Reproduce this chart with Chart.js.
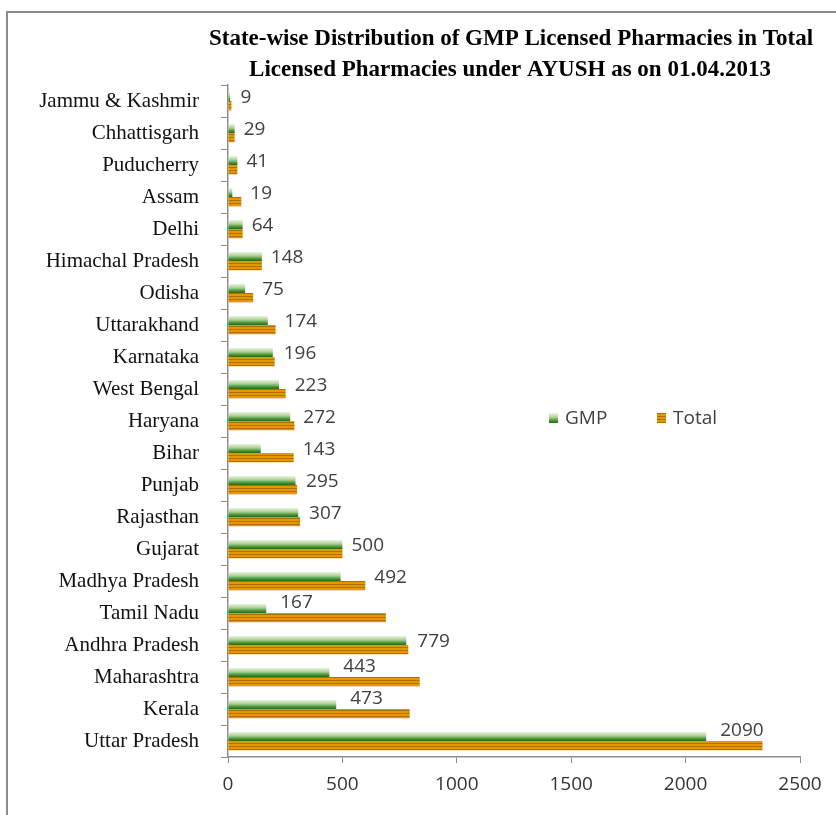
<!DOCTYPE html>
<html>
<head>
<meta charset="utf-8">
<script src="https://cdn.jsdelivr.net/npm/chart.js@4.4.1/dist/chart.umd.min.js"></script>
<style>
  html, body { margin: 0; padding: 0; background: #fff; }
  #wrap { position: relative; width: 836px; height: 815px; overflow: hidden; }
  #frame { position: absolute; left: 6px; top: 11px; width: 840px; height: 820px;
           border-top: 2px solid #8c8c8c; border-left: 2px solid #8c8c8c; }
  canvas { position: absolute; left: 0; top: 0; }
</style>
</head>
<body>
<div id="wrap">
  <div id="frame"></div>
  <canvas id="gmpChart" width="836" height="815"></canvas>
</div>
<script>
const titleLines = [
  'State-wise Distribution of GMP Licensed Pharmacies in Total',
  'Licensed Pharmacies under AYUSH as on 01.04.2013'
];
const states = [
  'Jammu & Kashmir', 'Chhattisgarh', 'Puducherry', 'Assam', 'Delhi',
  'Himachal Pradesh', 'Odisha', 'Uttarakhand', 'Karnataka', 'West Bengal',
  'Haryana', 'Bihar', 'Punjab', 'Rajasthan', 'Gujarat', 'Madhya Pradesh',
  'Tamil Nadu', 'Andhra Pradesh', 'Maharashtra', 'Kerala', 'Uttar Pradesh'
];
const gmpCounts = [9, 29, 41, 19, 64, 148, 75, 174, 196, 223, 272, 143, 295, 307, 500, 492, 167, 779, 443, 473, 2090];
const totalCounts = [15, 29, 41, 58, 64, 148, 110, 208, 204, 252, 290, 287, 302, 315, 500, 600, 690, 788, 838, 794, 2336];
const xTicks = [0, 500, 1000, 1500, 2000, 2500];
const seriesNames = ['GMP', 'Total'];

const CAT_PCT = 0.58;
const canvas = document.getElementById('gmpChart');
const mainCtx = canvas.getContext('2d');

// orange bars with thin darker horizontal stripes
function makeStripes() {
  const c = document.createElement('canvas');
  c.width = 4; c.height = 3;
  const x = c.getContext('2d');
  x.fillStyle = '#e39800';
  x.fillRect(0, 0, 4, 3);
  x.fillStyle = '#b07000';
  x.fillRect(0, 2, 4, 1);
  return mainCtx.createPattern(c, 'repeat');
}
const stripes = makeStripes();

function greenGradient(c, top, bottom) {
  const g = c.createLinearGradient(0, top, 0, bottom);
  g.addColorStop(0, '#f0f7ea');
  g.addColorStop(0.45, '#a9d08e');
  g.addColorStop(0.8, '#3f8a2c');
  g.addColorStop(1, '#2c6a1e');
  return g;
}

// gradient per bar, worked out from the category band
function gmpFill(ctx) {
  const chart = ctx.chart;
  const y = chart.scales && chart.scales.y;
  if (!chart.chartArea || !y || ctx.type !== 'data') return '#5b9a3f';
  const centre = y.getPixelForValue(ctx.dataIndex);
  const bw = (y.height / states.length) * CAT_PCT / 2;
  return greenGradient(chart.ctx, centre - bw, centre);
}

const titlePlugin = {
  id: 'twoLineTitle',
  afterDraw(chart) {
    const c = chart.ctx;
    c.save();
    c.font = 'bold 23px "Liberation Serif"';
    c.fillStyle = '#000';
    c.textAlign = 'center';
    c.textBaseline = 'middle';
    c.fillText(titleLines[0], 511, 39);
    c.fillText(titleLines[1], 510, 70);
    c.restore();
  }
};

const legendPlugin = {
  id: 'midLegend',
  afterDraw(chart) {
    const c = chart.ctx;
    const area = chart.chartArea;
    const y = 418;
    const items = [
      { x: area.left + 321, fill: greenGradient(c, y - 5, y + 5) },
      { x: area.left + 429, fill: stripes }
    ];
    c.save();
    c.font = '19px "Open Sans"';
    c.textBaseline = 'middle';
    items.forEach((it, i) => {
      c.fillStyle = it.fill;
      c.fillRect(it.x, y - 5, 9, 10);
      c.fillStyle = '#404040';
      c.fillText(seriesNames[i], it.x + 16, y + 1);
    });
    c.restore();
  }
};

const valueLabels = {
  id: 'valueLabels',
  afterDatasetsDraw(chart) {
    const c = chart.ctx;
    const g = chart.getDatasetMeta(0).data;
    const t = chart.getDatasetMeta(1).data;
    c.save();
    c.font = '19px "Open Sans"';
    c.fillStyle = '#404040';
    c.textAlign = 'left';
    c.textBaseline = 'middle';
    g.forEach((bar, i) => {
      const gEnd = bar.x, tEnd = t[i].x;
      let x, y;
      if (tEnd - gEnd < 40) {
        x = Math.max(gEnd, tEnd) + 9;
        y = bar.y + 1;
      } else {
        x = gEnd + 14;
        y = bar.y - 6;
      }
      c.fillText(String(gmpCounts[i]), x, y);
    });
    c.restore();
  }
};

new Chart(mainCtx, {
  type: 'bar',
  data: {
    labels: states,
    datasets: [
      {
        label: seriesNames[0],
        data: gmpCounts,
        backgroundColor: gmpFill,
        borderWidth: 0,
        categoryPercentage: CAT_PCT,
        barPercentage: 1
      },
      {
        label: seriesNames[1],
        data: totalCounts,
        backgroundColor: stripes,
        borderWidth: 0,
        categoryPercentage: CAT_PCT,
        barPercentage: 1
      }
    ]
  },
  options: {
    indexAxis: 'y',
    responsive: false,
    animation: false,
    layout: { padding: { top: 85, left: 8, right: 36, bottom: 0 } },
    plugins: {
      legend: { display: false },
      title: { display: false },
      tooltip: { enabled: false }
    },
    scales: {
      x: {
        min: 0,
        max: 2500,
        afterBuildTicks: s => { s.ticks = xTicks.map(v => ({ value: v })); },
        afterFit: s => { s.height = 58; },
        grid: { drawOnChartArea: false, tickLength: 6, color: '#8c8c8c' },
        border: { color: '#8c8c8c', width: 1.5 },
        ticks: {
          color: '#333',
          padding: 10,
          font: { family: 'Open Sans', size: 19 },
          callback: v => String(v)
        }
      },
      y: {
        afterFit: s => { s.width = 220; },
        grid: { drawOnChartArea: false, tickLength: 7, color: '#8c8c8c', offset: true },
        border: { color: '#8c8c8c', width: 1.5 },
        ticks: {
          color: '#111',
          padding: 22,
          autoSkip: false,
          font: { family: 'Liberation Serif', size: 21 }
        }
      }
    }
  },
  plugins: [valueLabels, titlePlugin, legendPlugin]
});
</script>
</body>
</html>
